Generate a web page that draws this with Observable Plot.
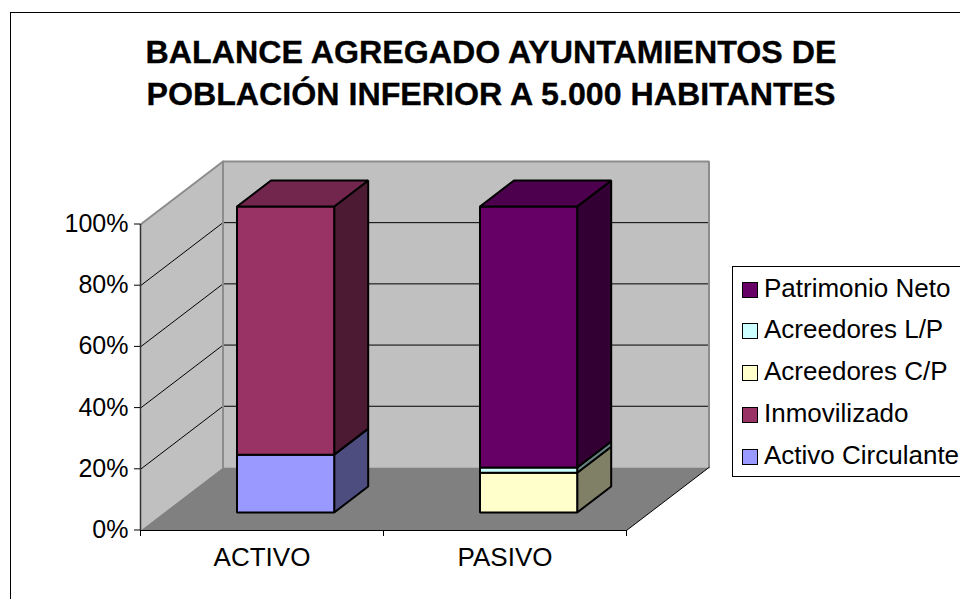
<!DOCTYPE html>
<html>
<head>
<meta charset="utf-8">
<script src="https://cdn.jsdelivr.net/npm/d3@7"></script>
<script src="https://cdn.jsdelivr.net/npm/@observablehq/plot@0.6"></script>
<style>
html,body{margin:0;padding:0;background:#fff;overflow:hidden}
#page{position:relative;width:960px;height:599px;font-family:"Liberation Sans",Arial,sans-serif;color:#000}
#frame{position:absolute;left:10px;top:12px;right:-4px;bottom:-4px;border:2px solid #000;border-width:1.5px 0 0 1.5px;pointer-events:none}
#title{position:absolute;left:11px;width:960px;top:31px;margin:0;text-align:center;font-size:32.2px;line-height:42px;font-weight:bold;-webkit-text-stroke:0.3px #000}
#plot{position:absolute;left:0;top:0}
#legend{position:absolute;left:732px;top:266px;right:0;height:209px;border:1px solid #000;border-right:none;background:#fff;box-sizing:content-box}
.row{position:absolute;left:9px;display:flex;align-items:center;font-size:26px;white-space:nowrap;height:30px}
.sw{width:14px;height:14px;border:1px solid #000;margin-right:6px;margin-top:3px;flex:none}
</style>
</head>
<body>
<div id="page">
<div id="plot"></div>
<div id="frame"></div>
<h1 id="title">BALANCE AGREGADO AYUNTAMIENTOS DE<br>POBLACIÓN INFERIOR A 5.000 HABITANTES</h1>
<div id="legend"></div>
</div>
<script>
const categories = ["ACTIVO", "PASIVO"];
const yTicks = [0, 20, 40, 60, 80, 100];
const activoCirculante = [18.9, 0];
const inmovilizado = [81.1, 0];
const acreedoresCP = [0, 13];
const acreedoresLP = [0, 1.7];
const patrimonioNeto = [0, 85.3];

// stacking order, bottom to top; colours: front, side, top
const series = [
  {name: "Activo Circulante", values: activoCirculante, front: "#9999FF", side: "#4D4D80", top: "#7373BF"},
  {name: "Inmovilizado", values: inmovilizado, front: "#993366", side: "#4D1A33", top: "#73264D"},
  {name: "Acreedores C/P", values: acreedoresCP, front: "#FFFFCC", side: "#808066", top: "#BFBF99"},
  {name: "Acreedores L/P", values: acreedoresLP, front: "#CCFFFF", side: "#668080", top: "#99BFBF"},
  {name: "Patrimonio Neto", values: patrimonioNeto, front: "#660066", side: "#330033", top: "#4D004D"}
];

// oblique projection: depth z in 0..1 shifts by these amounts in data units
const DX = 0.3395, DY = 20.6;
const BAR_W = 0.4, Z0 = 0.286, Z1 = 0.698;
const px = d => d[0] + d[2] * DX;
const py = d => d[1] + d[2] * DY;
const face = (pts, fill, stroke, strokeWidth) => Plot.line(pts, {
  x: px, y: py, fill, stroke: stroke || "none", strokeWidth: strokeWidth || 1,
  curve: "linear-closed", strokeLinejoin: "miter"
});
const edge = (pts, stroke, strokeWidth) => Plot.line(pts, {
  x: px, y: py, stroke, strokeWidth, curve: "linear", strokeLinejoin: "miter"
});

const marks = [];
// walls and floor
marks.push(face([[0,0,0],[0,100,0],[0,100,1],[0,0,1]], "#C0C0C0"));
marks.push(face([[0,0,1],[0,100,1],[2,100,1],[2,0,1]], "#C0C0C0"));
marks.push(face([[0,0,0],[2,0,0],[2,0,1],[0,0,1]], "#808080"));
// gridlines
for (const t of yTicks.slice(1, -1)) {
  marks.push(edge([[0,t,0],[0,t,1],[2,t,1]], "#000", 1));
}
marks.push(edge([[0,100,0],[0,100,1],[2,100,1],[2,0,1]], "#8C8C8C", 2));
marks.push(edge([[0,100,1],[0,0,1]], "#8C8C8C", 2));
marks.push(edge([[2,0,0],[2,0,1]], "#000", 1));

// stacked bars
categories.forEach((c, i) => {
  const x0 = i + 0.5 - BAR_W / 2, x1 = i + 0.5 + BAR_W / 2;
  let base = 0;
  for (const s of series) {
    const v = s.values[i];
    if (!v) continue;
    const y0 = base, y1 = base + v;
    marks.push(face([[x1,y0,Z0],[x1,y1,Z0],[x1,y1,Z1],[x1,y0,Z1]], s.side, "#000", 2));
    marks.push(face([[x0,y0,Z0],[x1,y0,Z0],[x1,y1,Z0],[x0,y1,Z0]], s.front, "#000", 2));
    if (y1 >= 99.99) marks.push(face([[x0,y1,Z0],[x1,y1,Z0],[x1,y1,Z1],[x0,y1,Z1]], s.top, "#000", 2));
    base = y1;
  }
});

// axes
marks.push(Plot.ruleX([0], {y1: 0, y2: 100, stroke: "#333", strokeWidth: 1.5}));
marks.push(Plot.ruleY([0], {x1: 0, x2: 2, stroke: "#000", strokeWidth: 1}));
marks.push(Plot.axisY({ticks: yTicks, tickFormat: d => d + "%", tickSize: 6, tickPadding: 6, fontSize: 25, label: null, anchor: "left", dy: -0.5}));
marks.push(Plot.axisX({ticks: [0, 1, 2], tickFormat: () => "", tickSize: 6, label: null, anchor: "bottom"}));
marks.push(Plot.axisX({ticks: categories.map((c, i) => i + 0.5), tickFormat: d => categories[d - 0.5], tickSize: 0, tickPadding: 17, fontSize: 26, label: null, anchor: "bottom"}));

const chart = Plot.plot({
  width: 960, height: 599,
  marginLeft: 140, marginRight: 334, marginTop: 224, marginBottom: 69,
  x: {type: "linear", domain: [0, 2]},
  y: {type: "linear", domain: [0, 100]},
  style: {fontFamily: '"Liberation Sans", Arial, sans-serif', background: "transparent", overflow: "visible"},
  marks
});
document.getElementById("plot").appendChild(chart);

const legend = document.getElementById("legend");
[...series].reverse().forEach((s, i) => {
  const r = document.createElement("div");
  r.className = "row";
  r.style.top = (6 + i * 41.8) + "px";
  r.innerHTML = `<span class="sw" style="background:${s.front}"></span><span>${s.name}</span>`;
  legend.appendChild(r);
});
</script>
</body>
</html>
